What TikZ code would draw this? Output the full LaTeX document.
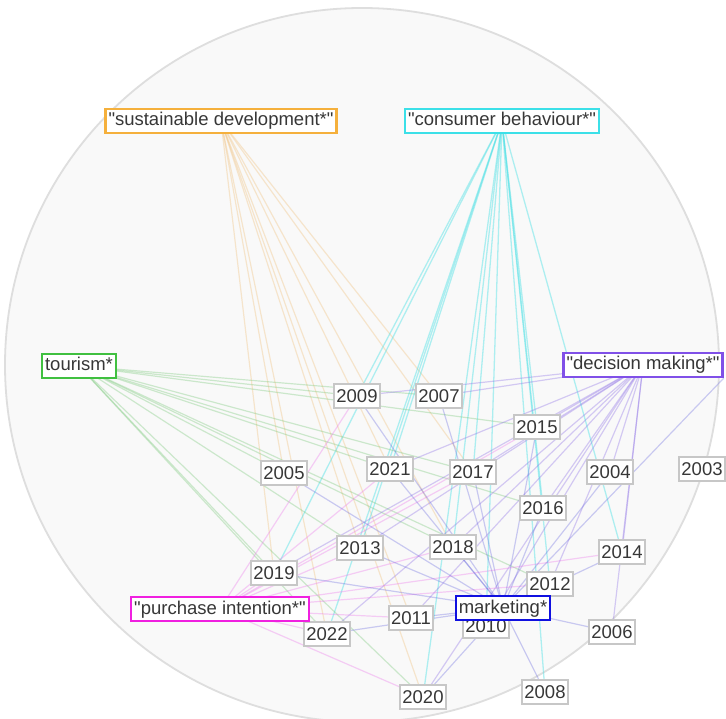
\documentclass[tikz,border=0pt]{standalone}
\usepackage{fontspec}
\setmainfont{Liberation Sans}[Ligatures=TeXOff]
\pgfdeclarelayer{background}
\pgfsetlayers{background,main}
\definecolor{txt}{RGB}{55,55,55}
\definecolor{cOr}{RGB}{245,176,60}
\definecolor{cCy}{RGB}{60,224,232}
\definecolor{cGr}{RGB}{64,192,64}
\definecolor{cPu}{RGB}{128,80,232}
\definecolor{cMa}{RGB}{240,32,224}
\definecolor{cBl}{RGB}{16,16,224}
\definecolor{lOr}{RGB}{240,190,120}
\definecolor{lCy}{RGB}{80,225,230}
\definecolor{lGr}{RGB}{120,200,120}
\definecolor{lPu}{RGB}{140,110,230}
\definecolor{lMa}{RGB}{235,120,235}
\definecolor{lBl}{RGB}{90,90,220}
\tikzset{
  yearbox/.style={draw=black!22, line width=1.8pt, fill=white, text=txt,
    font=\fontsize{18.5}{18.5}\selectfont, inner xsep=2.5pt, inner ysep=0pt,
    minimum height=24pt, text height=13.5pt, text depth=0pt},
  kwbox/.style={draw=#1, line width=2.4pt, fill=white, text=txt,
    font=\fontsize{18.5}{18.5}\selectfont, inner xsep=3pt, inner ysep=0pt,
    minimum height=24pt, text height=13.5pt, text depth=3.5pt},
  edge/.style={draw=#1, line width=1.2pt, opacity=0.35},
  edgeCy/.style={draw=lCy, line width=1.3pt, opacity=0.45},
  edgeBl/.style={draw=lBl, line width=1.2pt, opacity=0.3}
}
\begin{document}
\begin{tikzpicture}[x=1pt,y=-1pt]
\useasboundingbox (0,0) rectangle (726,719);

% year nodes
\node[yearbox] (y2009) at (357,396) {2009};
\node[yearbox] (y2007) at (439,396) {2007};
\node[yearbox] (y2015) at (537,427) {2015};
\node[yearbox] (y2005) at (284,473) {2005};
\node[yearbox] (y2021) at (390,469) {2021};
\node[yearbox] (y2017) at (473,472) {2017};
\node[yearbox] (y2004) at (610,472) {2004};
\node[yearbox] (y2003) at (702,469) {2003};
\node[yearbox] (y2016) at (543,508) {2016};
\node[yearbox] (y2014) at (622,552) {2014};
\node[yearbox] (y2013) at (360,548) {2013};
\node[yearbox] (y2018) at (453,547) {2018};
\node[yearbox] (y2019) at (274,573) {2019};
\node[yearbox] (y2012) at (550,584) {2012};
\node[yearbox] (y2011) at (411,618) {2011};
\node[yearbox] (y2010) at (486,626) {2010};
\node[yearbox] (y2022) at (327,634) {2022};
\node[yearbox] (y2006) at (612,632) {2006};
\node[yearbox] (y2020) at (423,697) {2020};
\node[yearbox] (y2008) at (545,692) {2008};

% keyword nodes
\node[kwbox=cOr] (sd) at (221,121) {"sustainable development*"};
\node[kwbox=cCy] (cb) at (502,121) {"consumer behaviour*"};
\node[kwbox=cGr] (to) at (79,366) {tourism*};
\node[kwbox=cPu] (dm) at (643,365) {"decision making*"};
\node[kwbox=cMa] (pi) at (220,609) {"purchase intention*"};
\node[kwbox=cBl] (mk) at (503,608) {marketing*};

\begin{pgfonlayer}{background}
\fill[white] (0,0) rectangle (726,719);
\filldraw[fill=black!2.5, draw=black!13, line width=1.8pt] (362,365) circle (357);
\foreach \y in {2019,2005,2022,2013,2020,2011,2021,2018,2017,2007}
  \draw[edge=lOr] (sd.center) -- (y\y.center);
\foreach \y in {2009,2019,2021,2013,2022,2020,2018,2010,2008,2016,2015,2014,2017,2012}
  \draw[edgeCy] (cb.center) -- (y\y.center);
\foreach \y in {2009,2007,2015,2021,2017,2016,2005,2018,2013,2019,2022,2020,2012}
  \draw[edge=lGr] (to.center) -- (y\y.center);
\foreach \y in {2009,2007,2015,2021,2017,2013,2019,2018,2016,2004,2014,2012,2006,2010,2011,2020,2022}
  \draw[edge=lPu] (dm.center) -- (y\y.center);
\foreach \y in {2009,2021,2015,2017,2013,2018,2014,2012,2011,2020,2022,2019}
  \draw[edge=lMa] (pi.center) -- (y\y.center);
\foreach \y in {2009,2021,2018,2017,2016,2015,2004,2014,2012,2006,2008,2020,2011,2022,2013,2019,2010,2005,2007}
  \draw[edgeBl] (mk.center) -- (y\y.center);
\draw[edgeBl] (mk.center) -- (dm.south east);
\end{pgfonlayer}
\end{tikzpicture}
\end{document}
